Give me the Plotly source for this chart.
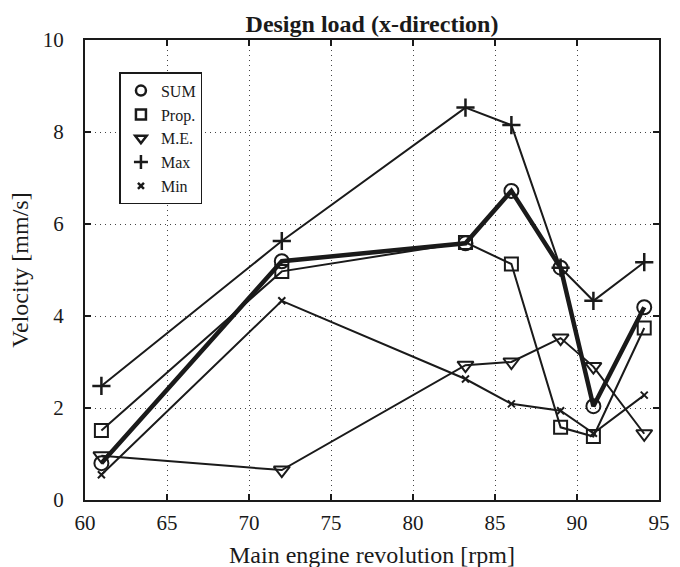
import plotly.graph_objects as go

rpm = [61, 72, 83.2, 86, 89, 91, 94.1]
sum_v = [0.80, 5.19, 5.58, 6.72, 5.05, 2.04, 4.19]
prop_v = [1.51, 4.97, 5.60, 5.13, 1.58, 1.38, 3.74]
me_v = [0.96, 0.65, 2.93, 3.00, 3.52, 2.90, 1.44]
max_v = [2.48, 5.63, 8.53, 8.15, 5.05, 4.33, 5.17]
min_v = [0.55, 4.33, 2.63, 2.09, 1.94, 1.45, 2.28]

series = [
    ("SUM", sum_v, "circle-open", 14, 4.5, 2),
    ("Prop.", prop_v, "square-open", 13, 2, 2),
    ("M.E.", me_v, "triangle-down-open", 14, 2, 2),
    ("Max", max_v, "cross-thin-open", 13, 2, 2.5),
    ("Min", min_v, "x-thin-open", 7, 2, 2),
]

INK = "#1a1a1a"
SERIF = "Liberation Serif"

fig = go.Figure()
for name, vals, sym, size, lw, mlw in series:
    fig.add_trace(go.Scatter(
        x=rpm, y=vals, mode="lines+markers", name=name, showlegend=False,
        line=dict(color=INK, width=lw),
        marker=dict(symbol=sym, size=size, color=INK,
                    line=dict(color=INK, width=mlw))))
for name, vals, sym, size, lw, mlw in series:
    fig.add_trace(go.Scatter(
        x=[None], y=[None], mode="markers", name=name,
        marker=dict(symbol=sym, size=min(size, 10) if sym != "x-thin-open" else 6,
                    color=INK, line=dict(color=INK, width=2.5))))

axis_common = dict(
    showline=True, linecolor=INK, linewidth=2, mirror="ticks",
    ticks="inside", ticklen=6, tickwidth=2, tickcolor=INK,
    showgrid=True, gridcolor="#444", griddash="1px,4px", gridwidth=1,
    zeroline=False, automargin=False,
    tickfont=dict(family=SERIF, size=21, color=INK),
)

W, H = 680, 567
fig.update_layout(
    width=W, height=H,
    margin=dict(l=85, r=21, t=40, b=67),
    paper_bgcolor="white", plot_bgcolor="white",
    title=dict(text="<b>Design load (x-direction)</b>", x=0.5, xanchor="center",
               xref="paper", yref="container", y=1 - 24 / H, yanchor="middle",
               font=dict(family=SERIF, size=24, color=INK)),
    xaxis=dict(range=[60, 95], dtick=5, ticklabelstandoff=3, **axis_common),
    yaxis=dict(range=[0, 10], dtick=2, ticklabelstandoff=15,
               title=dict(text="Velocity [mm/s]", standoff=7,
                          font=dict(family=SERIF, size=24, color=INK)),
               **axis_common),
    legend=dict(x=0.06, y=0.93, xanchor="left", yanchor="top",
                bgcolor="white", bordercolor=INK, borderwidth=1.5,
                font=dict(family=SERIF, size=16, color=INK),
                itemwidth=30, tracegroupgap=0),
    annotations=[dict(text="Main engine revolution [rpm]", xref="paper", yref="paper",
                      x=0.5, y=-0.12, xanchor="center", yanchor="middle",
                      showarrow=False,
                      font=dict(family=SERIF, size=24, color=INK))],
)

fig.write_html("out.html",
               config={"displayModeBar": False},
               post_script="document.body.style.margin='0';document.body.style.overflow='hidden';")
